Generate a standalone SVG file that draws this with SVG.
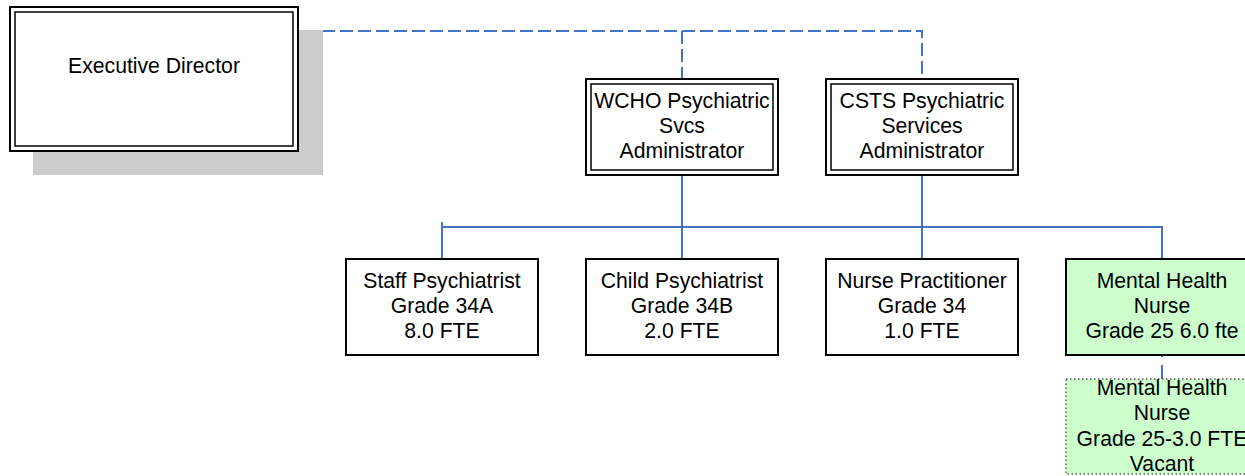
<svg xmlns="http://www.w3.org/2000/svg" width="1245" height="476" viewBox="0 0 1245 476">
<style>
text{font-family:"Liberation Sans",Arial,sans-serif;font-size:21.2px;fill:#000;text-anchor:middle}
.box{fill:#fff;stroke:#000;stroke-width:2}
.outer{fill:#fff;stroke:#000;stroke-width:2}
.inner{fill:none;stroke:#000;stroke-width:1.5}
.green{fill:#ccffcc;stroke:#000;stroke-width:2}
.vacant{fill:#ccffcc;stroke:#555;stroke-width:1.4;stroke-dasharray:1.5 2.5}
.conn{fill:none;stroke:#4472c4;stroke-width:2}
.dash{stroke-dasharray:13 5}
</style>
<rect width="1245" height="476" fill="#fff"/>
<g id="connectors">
<path class="conn dash" d="M298,79 H322 V31 H922 V79 M682,31 V79"/>
<path class="conn" d="M682,175 V227 M922,175 V227 M442,222 V227 H1162 V259 M442,227 V259 M682,227 V259 M922,227 V259"/>
<path class="conn" d="M1162,355 V357 M1162,365 V379"/>
</g>
<g id="exec">
<rect x="33" y="30" width="290" height="145" fill="#cccccc"/>
<rect class="outer" x="10" y="7" width="288" height="144"/>
<rect class="inner" x="15" y="12" width="278" height="134"/>
<text x="154" y="73">Executive Director</text>
</g>
<g id="wcho">
<rect class="outer" x="586" y="79" width="192" height="96"/>
<rect class="inner" x="591" y="84" width="182" height="86"/>
<text x="682" y="108">WCHO Psychiatric</text>
<text x="682" y="133">Svcs</text>
<text x="682" y="158">Administrator</text>
</g>
<g id="csts">
<rect class="outer" x="826" y="79" width="192" height="96"/>
<rect class="inner" x="831" y="84" width="182" height="86"/>
<text x="922" y="108">CSTS Psychiatric</text>
<text x="922" y="133">Services</text>
<text x="922" y="158">Administrator</text>
</g>
<g id="staff">
<rect class="box" x="346" y="259" width="192" height="96"/>
<text x="442" y="288">Staff Psychiatrist</text>
<text x="442" y="313">Grade 34A</text>
<text x="442" y="338">8.0 FTE</text>
</g>
<g id="child">
<rect class="box" x="586" y="259" width="192" height="96"/>
<text x="682" y="288">Child Psychiatrist</text>
<text x="682" y="313">Grade 34B</text>
<text x="682" y="338">2.0 FTE</text>
</g>
<g id="np">
<rect class="box" x="826" y="259" width="192" height="96"/>
<text x="922" y="288">Nurse Practitioner</text>
<text x="922" y="313">Grade 34</text>
<text x="922" y="338">1.0 FTE</text>
</g>
<g id="mhn">
<rect class="green" x="1066" y="259" width="192" height="96"/>
<text x="1162" y="288">Mental Health</text>
<text x="1162" y="313">Nurse</text>
<text x="1162" y="338">Grade 25 6.0 fte</text>
</g>
<g id="mhn-vacant">
<rect class="vacant" x="1066" y="379" width="192" height="95"/>
<text x="1162" y="395">Mental Health</text>
<text x="1162" y="420">Nurse</text>
<text x="1162" y="446">Grade 25-3.0 FTE</text>
<text x="1162" y="471">Vacant</text>
</g>
</svg>
